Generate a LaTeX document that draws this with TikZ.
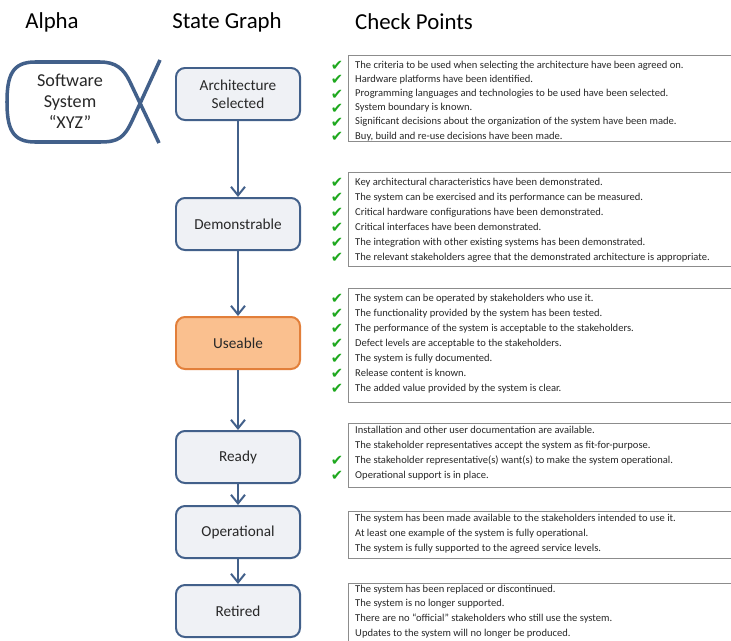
\documentclass[tikz,border=0pt]{standalone}
\usepackage{fontspec}
\setmainfont{Carlito}
\newfontfamily\symfont{DejaVu Sans}
\usepackage{xcolor}
\definecolor{agblue}{RGB}{66,96,138}
\definecolor{agfill}{RGB}{239,241,245}
\definecolor{agorange}{RGB}{250,192,143}
\definecolor{agorangedk}{RGB}{226,127,58}
\definecolor{aggreen}{RGB}{30,168,30}
\definecolor{aggray}{RGB}{140,140,140}
\definecolor{agtext}{RGB}{40,40,40}
\usetikzlibrary{arrows.meta,positioning}

\begin{document}
\begin{tikzpicture}[x=0.3mm,y=-0.3mm,font=\fontsize{9}{10}\selectfont,
  title/.style={font=\fontsize{19.5}{23}\selectfont,text=black},
  statebox/.style={draw=agblue,fill=agfill,line width=1.7pt,rounded corners=2.7mm,
    minimum width=37.2mm,minimum height=15.6mm,align=center,
    font=\fontsize{13}{15.5}\selectfont,text=agtext},
  flow/.style={draw=agblue,line width=1.7pt,-{Straight Barb[length=2.6mm,width=4.2mm]}},
  cpframe/.style={draw=aggray,line width=0.7pt,fill=white},
  cptext/.style={anchor=west,inner sep=0pt,text=agtext,text height=1.4ex,text depth=.3ex},
  ok/.style={inner sep=0pt,text=aggreen,font=\symfont\fontsize{12.5}{12.5}\selectfont}]
  \useasboundingbox[fill=white] (0,0) rectangle (731,640);
  \clip (0,0) rectangle (731,640);

  \node[title] (alpha) at (52,22) {Alpha};
  \node[title] (graph) at (227,22) {State Graph};
  \node[title] (points) at (414,22) {Check Points};

  \draw[agblue,line width=3pt,line join=round] (160,60) -- (132,121)
    .. controls (124,138) and (118,142) .. (100,142) -- (35,142)
    .. controls (12,142) and (7,128) .. (7,102)
    .. controls (7,76) and (12,62) .. (35,62) -- (100,62)
    .. controls (116,62) and (124,69) .. (130,82) -- (159,143);
  \node[align=center,text=agtext,font=\fontsize{15.5}{18}\selectfont] (sys) at (70,101) {Software\\System\\“XYZ”};

  \node[statebox] (arch) at (238,94) {Architecture\\Selected};
  \node[statebox] (demo) at (238,224) {Demonstrable};
  \node[statebox,fill=agorange,draw=agorangedk] (use) at (238,343) {Useable};
  \node[statebox] (ready) at (238,457) {Ready};
  \node[statebox] (oper) at (238,532) {Operational};
  \node[statebox] (ret) at (238,611) {Retired};
  \foreach \a/\b in {arch/demo,demo/use,use/ready,ready/oper,oper/ret}
    \draw[flow] (\a) -- (\b);

  \foreach \t/\b in {55/141, 172/266, 288/402, 423/487, 511/558, 583/680}
    \draw[cpframe] (348,\t) rectangle (745,\b);

  \foreach \r/\s in {0/{The criteria to be used when selecting the architecture have been agreed on.},
    1/{Hardware platforms have been identified.},
    2/{Programming languages and technologies to be used have been selected.},
    3/{System boundary is known.},
    4/{Significant decisions about the organization of the system have been made.},
    5/{Buy, build and re-use decisions have been made.}}{
    \node[cptext] (cpa-\r) at (355,{65+\r*14.2}) {\s};
    \node[ok] (oka-\r) at (337,{66+\r*14.2}) {✔};
  }
  \foreach \r/\s in {0/{Key architectural characteristics have been demonstrated.},
    1/{The system can be exercised and its performance can be measured.},
    2/{Critical hardware configurations have been demonstrated.},
    3/{Critical interfaces have been demonstrated.},
    4/{The integration with other existing systems has been demonstrated.},
    5/{The relevant stakeholders agree that the demonstrated architecture is appropriate.}}{
    \node[cptext] (cpb-\r) at (355,{182+\r*15}) {\s};
    \node[ok] (okb-\r) at (337,{183+\r*15}) {✔};
  }
  \foreach \r/\s in {0/{The system can be operated by stakeholders who use it.},
    1/{The functionality provided by the system has been tested.},
    2/{The performance of the system is acceptable to the stakeholders.},
    3/{Defect levels are acceptable to the stakeholders.},
    4/{The system is fully documented.},
    5/{Release content is known.},
    6/{The added value provided by the system is clear.}}{
    \node[cptext] (cpc-\r) at (355,{298+\r*15}) {\s};
    \node[ok] (okc-\r) at (337,{299+\r*15}) {✔};
  }
  \foreach \r/\s in {0/{Installation and other user documentation are available.},
    1/{The stakeholder representatives accept the system as fit-for-purpose.},
    2/{The stakeholder representative(s) want(s) to make the system operational.},
    3/{Operational support is in place.}}
    \node[cptext] (cpd-\r) at (355,{430+\r*15}) {\s};
  \node[ok] (okd-2) at (337,461) {✔};
  \node[ok] (okd-3) at (337,476) {✔};
  \foreach \r/\s in {0/{The system has been made available to the stakeholders intended to use it.},
    1/{At least one example of the system is fully operational.},
    2/{The system is fully supported to the agreed service levels.}}
    \node[cptext] (cpe-\r) at (355,{518+\r*15}) {\s};
  \foreach \r/\s in {0/{The system has been replaced or discontinued.},
    1/{The system is no longer supported.},
    2/{There are no “official” stakeholders who still use the system.},
    3/{Updates to the system will no longer be produced.}}
    \node[cptext] (cpf-\r) at (355,{589+\r*14.7}) {\s};
\end{tikzpicture}
\end{document}
